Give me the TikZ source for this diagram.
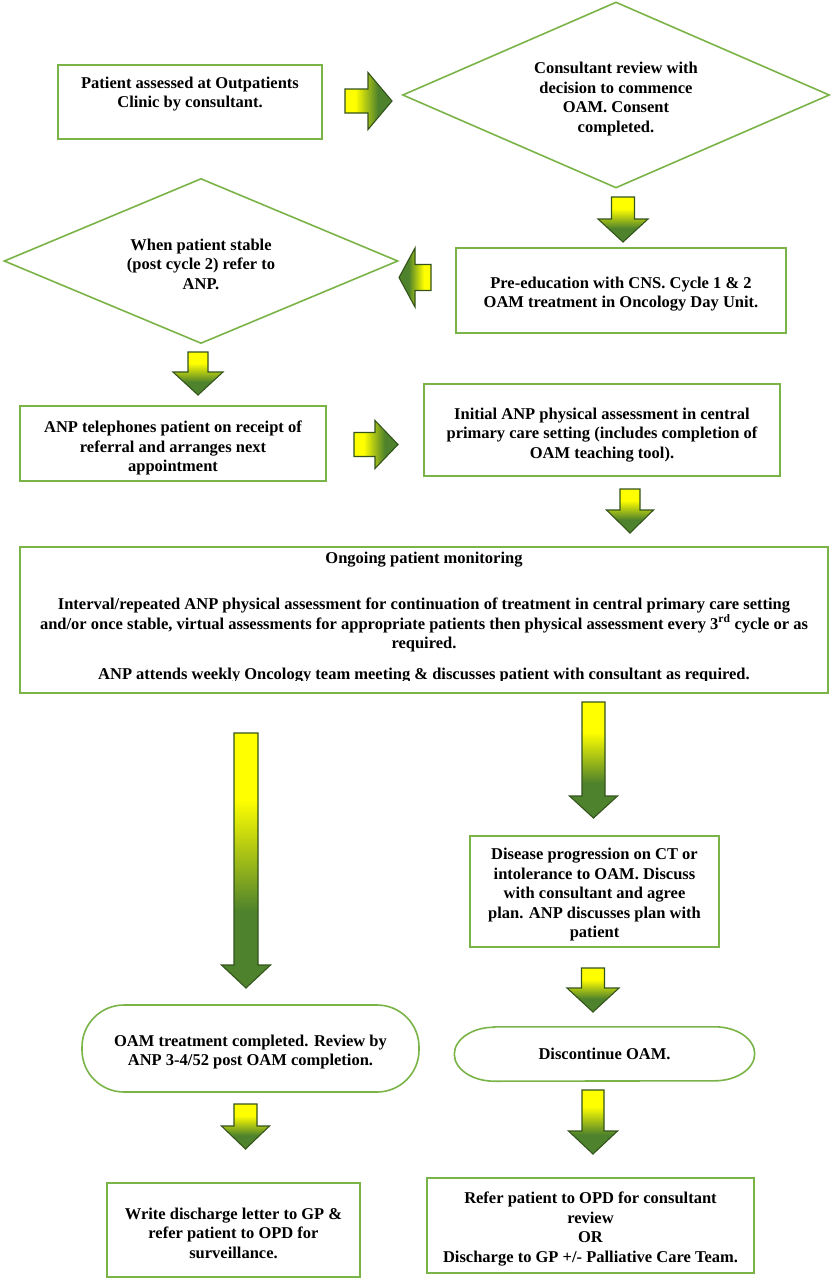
\documentclass[tikz,border=0pt]{standalone}
\usepackage{fontspec}
\setmainfont{Liberation Serif}[BoldFont={Liberation Serif Bold}]
\usetikzlibrary{shapes.geometric}
\definecolor{boxgreen}{RGB}{122,180,72}
\definecolor{agreen}{RGB}{78,130,44}
\definecolor{adark}{RGB}{52,84,28}
\definecolor{ayellow}{RGB}{255,255,0}
\pgfdeclareverticalshading{adown}{100bp}{color(0bp)=(agreen); color(25bp)=(agreen); color(40bp)=(agreen); color(62bp)=(ayellow); color(75bp)=(ayellow); color(100bp)=(ayellow)}
\pgfdeclarehorizontalshading{aright}{100bp}{color(0bp)=(ayellow); color(25bp)=(ayellow); color(36bp)=(ayellow); color(60bp)=(agreen); color(75bp)=(agreen); color(100bp)=(agreen)}
\pgfdeclarehorizontalshading{aleft}{100bp}{color(0bp)=(agreen); color(25bp)=(agreen); color(40bp)=(agreen); color(64bp)=(ayellow); color(75bp)=(ayellow); color(100bp)=(ayellow)}
% down block arrow: cx, ytop, ybottom, yheadstart, shaft half width, head half width
\newcommand\blkdown[6]{\shadedraw[blockarrow, shading=adown] ({#1-#5},#2) -- ({#1+#5},#2) -- ({#1+#5},#4) -- ({#1+#6},#4) -- (#1,#3) -- ({#1-#6},#4) -- ({#1-#5},#4) -- cycle;}
% right block arrow: cy, xleft, xright, xheadstart, shaft half, head half
\newcommand\blkright[6]{\shadedraw[blockarrow, shading=aright] (#2,{#1-#5}) -- (#4,{#1-#5}) -- (#4,{#1-#6}) -- (#3,#1) -- (#4,{#1+#6}) -- (#4,{#1+#5}) -- (#2,{#1+#5}) -- cycle;}
% left block arrow: cy, xtip, xtail, xheadstart, shaft half, head half
\newcommand\blkleft[6]{\shadedraw[blockarrow, shading=aleft] (#3,{#1-#5}) -- (#4,{#1-#5}) -- (#4,{#1-#6}) -- (#2,#1) -- (#4,{#1+#6}) -- (#4,{#1+#5}) -- (#3,{#1+#5}) -- cycle;}
\begin{document}
\begin{tikzpicture}[x=1pt,y=-1pt,
  blockarrow/.style={draw=adark, line width=1.1pt, line join=miter},
  boxline/.style={draw=boxgreen, line width=1.6pt},
  box/.style={boxline, rectangle, inner sep=0pt, fill=white},
  dia/.style={boxline, diamond, inner sep=0pt, fill=white},
  rbox/.style={boxline, rectangle, inner sep=0pt, fill=white},
  txt/.style={align=center, inner sep=0pt, font=\fontsize{16.5}{19.5}\selectfont\bfseries}
]
\useasboundingbox (0,0) rectangle (833,1280);
\fill[white] (0,0) rectangle (833,1280);

% row 1
\node[box, minimum width=264pt, minimum height=74pt] (b1) at (190,102) {};
\node[txt] (t1) at (190,94) {Patient assessed at Outpatients\\Clinic by consultant.};
\blkright{101}{345}{392}{368}{12}{28.5}
\node[dia, minimum width=427pt, minimum height=186pt] (d1) at (616,95) {};
\node[txt] (t2) at (616,99) {Consultant review with\\decision to commence\\OAM. Consent\\completed.};

% row 2
\blkdown{623}{197}{242}{219}{11.5}{25}
\node[box, minimum width=330pt, minimum height=85pt] (b2) at (621,290.5) {};
\node[txt] (t3) at (621,294) {Pre-education with CNS. Cycle 1 \& 2\\OAM treatment in Oncology Day Unit.};
\blkleft{277.5}{399}{431}{415}{13}{29.5}
\node[dia, minimum width=394pt, minimum height=165pt] (d2) at (201,261) {};
\node[txt] (t4) at (201,264) {When patient stable\\(post cycle 2) refer to\\ANP.};

% row 3
\blkdown{198}{352}{395}{372}{10}{25}
\node[box, minimum width=306pt, minimum height=75pt] (b3) at (173,443.5) {};
\node[txt] (t5) at (173,448) {ANP telephones patient on receipt of\\referral and arranges next\\appointment};
\blkright{444.5}{354}{398}{375}{12}{24}
\node[box, minimum width=356pt, minimum height=92pt] (b4) at (602,430) {};
\node[txt] (t6) at (602,435) {Initial ANP physical assessment in central\\primary care setting (includes completion of\\OAM teaching tool).};

% monitoring box
\blkdown{630}{489}{533}{510}{10}{23.5}
\node[box, minimum width=808pt, minimum height=146pt] (b5) at (424,620) {};
\node[txt] (t7) at (424,560) {Ongoing patient monitoring};
\node[txt] (t8) at (424,625) {Interval/repeated ANP physical assessment for continuation of treatment in central primary care setting\\and/or once stable, virtual assessments for appropriate patients then physical assessment every 3\textsuperscript{rd} cycle or as\\required.};
\begin{scope}
  \clip (20,547) rectangle (828,680);
  \node[txt, anchor=base] (t9) at (424,679) {ANP attends weekly Oncology team meeting \& discusses patient with consultant as required.};
\end{scope}

% lower branches
\blkdown{246}{733}{988}{965}{12}{24.5}
\blkdown{593.5}{702}{818}{796}{11.5}{24}
\node[box, minimum width=249pt, minimum height=111pt] (b6) at (594.5,891.5) {};
\node[txt] (t10) at (594.5,895) {Disease progression on CT or\\intolerance to OAM. Discuss\\with consultant and agree\\plan. ANP discusses plan with\\patient};
\blkdown{593}{968}{1012}{988}{11.5}{26}

\node[rbox, rounded corners=42pt, minimum width=337pt, minimum height=87pt] (r1) at (250.5,1048.5) {};
\node[txt] (t11) at (250.5,1052) {OAM treatment completed. Review by\\ANP 3-4/52 post OAM completion.};
\node[inner sep=0pt, minimum width=300pt, minimum height=54pt] (r2) at (604.5,1054) {};
\draw[boxline, fill=white] ([xshift=40pt]r2.north west) -- ([xshift=-40pt]r2.north east)
  arc[start angle=90, end angle=-90, x radius=40pt, y radius=27pt]
  -- ([xshift=40pt]r2.south west)
  arc[start angle=270, end angle=90, x radius=40pt, y radius=27pt] -- cycle;
\node[txt] (t12) at (604.5,1054) {Discontinue OAM.};

\blkdown{245.5}{1104}{1149}{1126}{11.5}{24}
\blkdown{593}{1090}{1154}{1131}{11}{24.5}

\node[box, minimum width=253pt, minimum height=94pt] (b7) at (233.5,1230) {};
\node[txt] (t13) at (233.5,1233) {Write discharge letter to GP \&\\refer patient to OPD for\\surveillance.};
\node[box, minimum width=327pt, minimum height=95pt] (b8) at (590.5,1225.5) {};
\node[txt] (t14) at (590.5,1229) {Refer patient to OPD for consultant\\review\\OR\\Discharge to GP +/- Palliative Care Team.};
\end{tikzpicture}
\end{document}
